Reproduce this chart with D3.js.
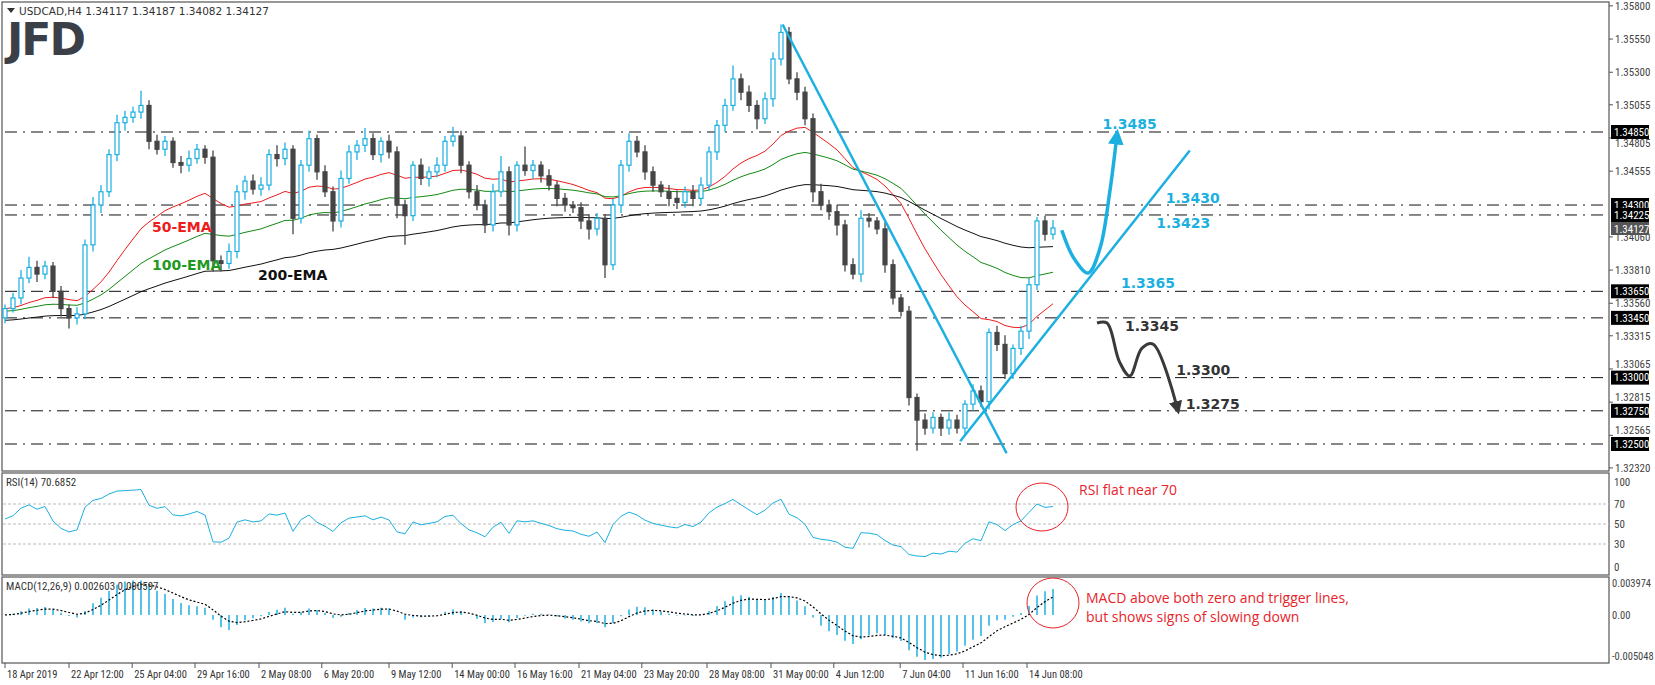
<!DOCTYPE html>
<html><head><meta charset="utf-8">
<script src="https://cdn.jsdelivr.net/npm/d3@7"></script>
<style>body{margin:0;background:#fff}svg{display:block}</style></head>
<body><svg id="c" width="1655" height="685"></svg>
<script>
const closes=[1.3352,1.3360,1.3375,1.3383,1.3378,1.3384,1.3365,1.3352,1.3345,1.3348,1.3400,1.3430,1.3440,1.3468,1.3492,1.3496,1.3500,1.3505,1.3478,1.3472,1.3478,1.3462,1.3460,1.3465,1.3472,1.3466,1.3388,1.3386,1.3395,1.3440,1.3448,1.3442,1.3445,1.3468,1.3465,1.3472,1.3420,1.3460,1.3480,1.3455,1.3440,1.3418,1.3450,1.3470,1.3475,1.3480,1.3468,1.3478,1.3470,1.3430,1.3422,1.3460,1.3450,1.3455,1.3460,1.3478,1.3482,1.3460,1.3440,1.3430,1.3415,1.3440,1.3455,1.3415,1.3460,1.3456,1.3460,1.3452,1.3445,1.3435,1.3430,1.3428,1.3418,1.3412,1.3420,1.3385,1.3430,1.3460,1.3478,1.3470,1.3455,1.3445,1.3440,1.3435,1.3432,1.3440,1.3435,1.3445,1.3470,1.3490,1.3505,1.3525,1.3515,1.3505,1.3495,1.3510,1.3540,1.3560,1.3525,1.3515,1.3495,1.3440,1.3430,1.3425,1.3415,1.3385,1.3378,1.3420,1.3418,1.3412,1.3385,1.3360,1.3350,1.3285,1.3268,1.3262,1.3270,1.3262,1.3268,1.3262,1.3280,1.3290,1.3282,1.3334,1.3325,1.3303,1.3322,1.3335,1.3370,1.3418,1.3408,1.34127];
const firstOpen=1.3345;
// wick extensions in pips (above body / below body)
const wickUp=[3,4,6,8,5,4,3,4,3,5,4,6,5,4,6,5,4,11,4,5,4,3,5,6,4,3,5,4,6,5,4,5,6,4,7,5,3,4,6,3,5,4,6,5,4,8,4,3,5,4,4,3,5,4,6,4,7,4,3,5,4,6,12,4,3,14,4,3,5,3,4,3,4,5,4,3,5,4,6,4,5,4,3,5,6,4,5,6,4,4,5,10,4,5,4,5,5,6,4,5,4,4,6,4,5,4,5,6,4,3,5,4,3,4,3,5,4,3,6,4,3,5,4,3,5,7,3,4,5,3,4,6];
const wickDn=[4,3,5,4,6,4,5,6,8,5,4,5,6,4,5,6,4,5,6,4,5,4,6,5,4,5,8,6,4,5,6,4,5,4,6,5,12,4,5,6,4,8,5,4,6,5,4,6,5,10,22,4,5,6,4,5,4,6,5,4,6,5,4,8,5,4,6,5,4,6,5,4,6,8,5,10,4,6,5,4,6,5,4,6,5,4,6,5,4,6,5,4,6,5,8,4,6,5,4,6,5,8,4,6,8,5,4,6,5,4,6,5,4,6,23,5,4,6,5,4,6,5,4,6,5,4,4,5,6,4,5,4];
const emaSeeds=[1.3352,1.3350,1.3343];
const emaPeriods=[25,50,100];
const levels=[1.3485,1.3430,1.34225,1.3365,1.3345,1.3300,1.3275,1.3250];
const axisTicks=[1.35800,1.35550,1.35300,1.35055,1.34805,1.34555,1.34060,1.33810,1.33560,1.33315,1.33065,1.32815,1.32565,1.32320];
const dateLabels=["18 Apr 2019","22 Apr 12:00","25 Apr 04:00","29 Apr 16:00","2 May 08:00","6 May 20:00","9 May 12:00","14 May 00:00","16 May 16:00","21 May 04:00","23 May 20:00","28 May 08:00","31 May 00:00","4 Jun 12:00","7 Jun 04:00","11 Jun 16:00","14 Jun 08:00"];
const dateIdx=[0,8,15.9,23.75,31.75,39.6,48,55.9,63.75,71.75,79.6,87.75,95.75,103.6,111.9,119.75,127.75];
const rsiLevels=[70,50,30];
const trendDown=[[97.2,1.3566],[125.2,1.3243]];
const trendUp=[[119.4,1.3252],[148.1,1.3471]];
const bullPath=[[132.1,1.3411],[133.6,1.3390],[135.4,1.33788],[136.9,1.3398],[138.1,1.3440],[138.9,1.3478]];
const bearPath=[[136.5,1.33411],[137.75,1.33411],[139.3,1.3312],[140.6,1.33012],[142.1,1.3322],[143.5,1.33253],[146.4,1.3280]];
const scenarioLabels=[["1.3485",137.2,1.34910,"#1cb0e0"],["1.3430",145.1,1.34353,"#1cb0e0"],["1.3423",143.9,1.34165,"#1cb0e0"],["1.3365",139.5,1.33713,"#1cb0e0"],["1.3345",140,1.3339,"#333"],["1.3300",146.4,1.33057,"#333"],["1.3275",147.6,1.32801,"#333"]];

const svg=d3.select("#c");
const AX=1609;
const x=d3.scaleLinear().domain([0,1]).range([5,13]);
const y=d3.scaleLinear().domain([1.3485,1.3250]).range([132,444]);
const yR=d3.scaleLinear().domain([0,100]).range([574,474]);
const yM=d3.scaleLinear().domain([-0.005048,0.003974]).range([663,577]);
const UP="#1cb0e0",DN="#454545";
const font="DejaVu Sans";
const nfont="'Liberation Sans Narrow','Roboto Condensed','DejaVu Sans Condensed',sans-serif";

const data=closes.map((c,i)=>{const o=i?closes[i-1]:firstOpen;return{i,o,c,h:Math.max(o,c)+wickUp[i]/10000,l:Math.min(o,c)-wickDn[i]/10000};});

const g=svg.append("g");
[[2,2,AX,471],[2,473,AX,575],[2,577,AX,663]].forEach(([x0,y0,x1,y1])=>g.append("rect").attr("x",x0).attr("y",y0).attr("width",x1-x0).attr("height",y1-y0).attr("fill","none").attr("stroke","#555").attr("stroke-width",1.2));

svg.append("clipPath").attr("id","mc").append("rect").attr("x",2).attr("y",2).attr("width",AX-2).attr("height",469);
const m=svg.append("g").attr("clip-path","url(#mc)");

levels.forEach(l=>m.append("line").attr("x1",5).attr("x2",AX-6).attr("y1",y(l)).attr("y2",y(l)).attr("stroke","#111").attr("stroke-dasharray","12,6,2,6"));

const emaCols=["#ee1c1c","#138a13","#111"];
emaPeriods.forEach((p,k)=>{const a=2/(p+1);let e=emaSeeds[k];const pts=closes.map((c,i)=>{e=e+a*(c-e);return[x(i),y(e)];});
 m.append("path").attr("d",d3.line()(pts)).attr("fill","none").attr("stroke",emaCols[k]).attr("stroke-width",1);});

const cg=m.append("g");
data.forEach(d=>{const up=d.c>=d.o,col=up?UP:DN,cx=x(d.i);
 cg.append("line").attr("x1",cx).attr("x2",cx).attr("y1",y(d.h)).attr("y2",y(d.l)).attr("stroke",col).attr("stroke-width",1.3);
 const t=y(Math.max(d.o,d.c)),b=y(Math.min(d.o,d.c));
 cg.append("rect").attr("x",cx-2).attr("y",t).attr("width",4).attr("height",Math.max(1,b-t)).attr("fill",up?"#fff":DN).attr("stroke",col).attr("stroke-width",1.2);});

[trendDown,trendUp].forEach(t=>m.append("line").attr("x1",x(t[0][0])).attr("y1",y(t[0][1])).attr("x2",x(t[1][0])).attr("y2",y(t[1][1])).attr("stroke",UP).attr("stroke-width",2.5));

const defs=svg.append("defs");
[["ab",UP],["ak","#3a3a3a"]].forEach(([id,c])=>defs.append("marker").attr("id",id).attr("viewBox","0 0 10 10").attr("refX",2).attr("refY",5).attr("markerWidth",4.5).attr("markerHeight",4.5).attr("orient","auto").append("path").attr("d","M0,0L10,5L0,10z").attr("fill",c));
const cl=d3.line().x(d=>x(d[0])).y(d=>y(d[1])).curve(d3.curveCatmullRom);
m.append("path").attr("d",cl(bullPath)).attr("fill","none").attr("stroke",UP).attr("stroke-width",3.5).attr("marker-end","url(#ab)");
m.append("path").attr("d",cl(bearPath)).attr("fill","none").attr("stroke","#3a3a3a").attr("stroke-width",3).attr("marker-end","url(#ak)");
scenarioLabels.forEach(([t,i,p,c])=>m.append("text").attr("x",x(i)).attr("y",y(p)).attr("dy","0.35em").attr("fill",c).attr("font-family",font).attr("font-weight","bold").attr("font-size",14).text(t));

[["50-EMA",152,227,"#ee1c1c"],["100-EMA",152,265,"#1e9a1e"],["200-EMA",258,275,"#111"]].forEach(([t,xx,yy,c])=>m.append("text").attr("x",xx).attr("y",yy).attr("dy","0.35em").attr("fill",c).attr("font-family",font).attr("font-weight","bold").attr("font-size",14).text(t));

svg.append("path").attr("d","M7,8L15,8L11,13z").attr("fill","#333");
svg.append("text").attr("x",19).attr("y",15).attr("font-family",font).attr("font-size",10.5).attr("fill","#333").text("USDCAD,H4  1.34117 1.34187 1.34082 1.34127");
svg.append("text").attr("x",7).attr("y",55).attr("font-family",font).attr("font-weight","bold").attr("font-size",44).attr("fill","#3b4048").attr("letter-spacing","-2").text("JFD");

const ra=svg.append("g").attr("font-family",nfont).attr("font-size",11);
axisTicks.forEach(t=>{const lv=levels.find(l=>Math.abs(y(l)-y(t))<9);
 ra.append("line").attr("x1",AX).attr("x2",AX+4).attr("y1",y(t)).attr("y2",y(t)).attr("stroke","#555");
 ra.append("text").attr("x",AX+6).attr("y",y(t)+(lv!==undefined?(y(t)>y(lv)?5:-5):0)).attr("dy","0.35em").attr("fill","#444").text(t.toFixed(5));});
levels.forEach(l=>{ra.append("rect").attr("x",AX+2).attr("y",y(l)-7).attr("width",38).attr("height",14).attr("fill","#000");
 ra.append("text").attr("x",AX+5).attr("y",y(l)).attr("dy","0.35em").attr("fill","#fff").text(l.toFixed(5));});
const last=closes[closes.length-1];
ra.append("rect").attr("x",AX+2).attr("y",y(last)-6).attr("width",38).attr("height",13).attr("fill","#555");
ra.append("text").attr("x",AX+5).attr("y",y(last)+1).attr("dy","0.35em").attr("fill","#fff").text(last.toFixed(5));

const rp=10;let ag=0.0004,al=0.00035;const rsi=[55];
closes.forEach((c,i)=>{if(i===0)return;const ch=c-closes[i-1];ag=(ag*(rp-1)+Math.max(ch,0))/rp;al=(al*(rp-1)+Math.max(-ch,0))/rp;rsi.push(100-100/(1+ag/al));});
rsiLevels.forEach(l=>svg.append("line").attr("x1",3).attr("x2",AX).attr("y1",yR(l)).attr("y2",yR(l)).attr("stroke","#bbb").attr("stroke-dasharray","3,2"));
svg.append("path").attr("d",d3.line().x((d,i)=>x(i)).y(d=>yR(d))(rsi)).attr("fill","none").attr("stroke",UP).attr("stroke-width",1);
[100,70,50,30,0].forEach(v=>svg.append("text").attr("x",AX+5).attr("y",v===100?482:v===0?567:yR(v)).attr("dy","0.35em").attr("font-family",nfont).attr("font-size",11).attr("fill","#444").text(v));
svg.append("text").attr("x",6).attr("y",486).attr("font-family",nfont).attr("font-size",11).attr("fill","#333").text("RSI(14) 70.6852");

const fa=2/7,sa=2/14,siga=2/5.5;let ef=closes[0],es=closes[0],sg=0;const macd=[],sig=[];
closes.forEach(c=>{ef+=fa*(c-ef);es+=sa*(c-es);const v=ef-es;macd.push(v);sg+=siga*(v-sg);sig.push(sg);});
svg.append("g").selectAll("line").data(macd).join("line").attr("x1",(d,i)=>x(i)).attr("x2",(d,i)=>x(i)).attr("y1",yM(0)).attr("y2",d=>yM(d)).attr("stroke",UP).attr("stroke-width",1.5);
svg.append("path").attr("d",d3.line().x((d,i)=>x(i)).y(d=>yM(d))(sig)).attr("fill","none").attr("stroke","#000").attr("stroke-width",1.2).attr("stroke-dasharray","2,2");
[[0.003974,"0.003974",583],[0,"0.00",null],[-0.005048,"-0.005048",656]].forEach(([v,t,yy])=>svg.append("text").attr("x",AX+3).attr("y",yy||yM(v)).attr("dy","0.35em").attr("font-family",nfont).attr("font-size",10.5).attr("fill","#444").text(t));
svg.append("text").attr("x",6).attr("y",590).attr("font-family",nfont).attr("font-size",11).attr("fill","#333").text("MACD(12,26,9) 0.002603 0.000597");

const red="#e8242a";
svg.append("ellipse").attr("cx",1042).attr("cy",507).attr("rx",26).attr("ry",24).attr("fill","none").attr("stroke",red);
svg.append("ellipse").attr("cx",1053).attr("cy",603).attr("rx",26).attr("ry",25).attr("fill","none").attr("stroke",red);
svg.append("text").attr("x",1079).attr("y",495).attr("font-family","Open Sans").attr("font-size",14).attr("fill",red).text("RSI flat near 70");
svg.append("text").attr("x",1086).attr("y",603).attr("font-family","Open Sans").attr("font-size",14).attr("fill",red).text("MACD above both zero and trigger lines,");
svg.append("text").attr("x",1086).attr("y",622).attr("font-family","Open Sans").attr("font-size",14).attr("fill",red).text("but shows signs of slowing down");

dateIdx.forEach((d,k)=>{svg.append("line").attr("x1",x(d)).attr("x2",x(d)).attr("y1",663).attr("y2",668).attr("stroke","#555");
 svg.append("text").attr("x",x(d)+2).attr("y",678).attr("font-family",nfont).attr("font-size",10.5).attr("fill","#333").text(dateLabels[k]);});
</script></body></html>
